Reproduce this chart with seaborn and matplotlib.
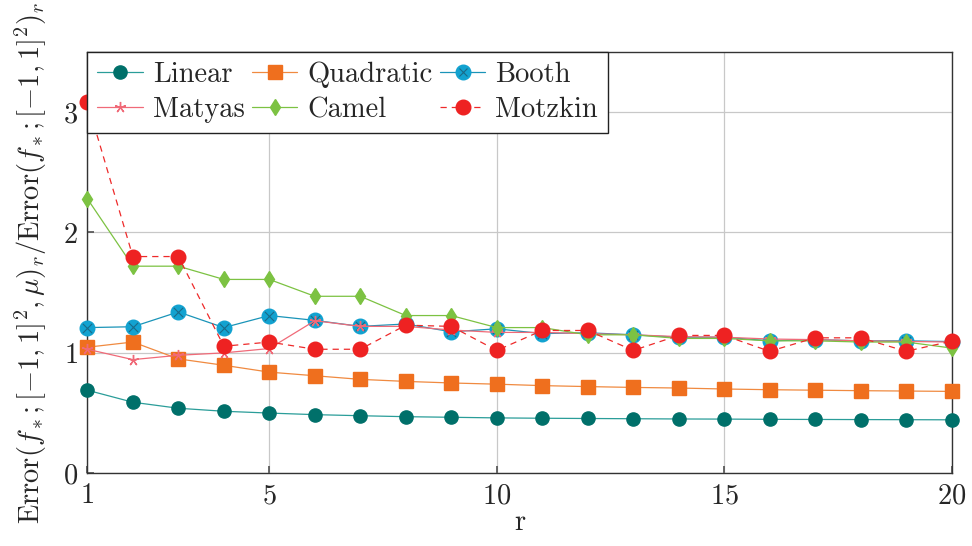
import numpy as np
import pandas as pd
import matplotlib
matplotlib.use("Agg")
import matplotlib.pyplot as plt
import seaborn as sns
from matplotlib.lines import Line2D

r = list(range(1, 21))
linear = [0.69, 0.59, 0.54, 0.515, 0.50, 0.487, 0.478, 0.47, 0.465, 0.46,
          0.457, 0.455, 0.453, 0.451, 0.45, 0.448, 0.447, 0.446, 0.445, 0.444]
quadratic = [1.047, 1.09, 0.95, 0.897, 0.84, 0.81, 0.78, 0.763, 0.75, 0.74,
             0.728, 0.72, 0.713, 0.708, 0.70, 0.694, 0.69, 0.686, 0.683, 0.68]
booth = [1.21, 1.217, 1.34, 1.21, 1.31, 1.27, 1.22, 1.24, 1.175, 1.20,
         1.16, 1.167, 1.15, 1.13, 1.13, 1.10, 1.11, 1.10, 1.10, 1.094]
matyas = [1.03, 0.944, 0.98, 1.0, 1.036, 1.267, 1.22, 1.22, 1.19, 1.17,
          1.17, 1.16, 1.15, 1.135, 1.13, 1.115, 1.11, 1.10, 1.095, 1.09]
camel = [2.28, 1.72, 1.72, 1.61, 1.61, 1.47, 1.47, 1.31, 1.31, 1.21,
         1.21, 1.15, 1.15, 1.12, 1.12, 1.10, 1.10, 1.09, 1.09, 1.04]
motzkin = [3.08, 1.80, 1.80, 1.055, 1.09, 1.03, 1.03, 1.23, 1.22, 1.02,
           1.186, 1.186, 1.02, 1.145, 1.145, 1.013, 1.125, 1.125, 1.013, 1.097]

names = ["Linear", "Quadratic", "Booth", "Matyas", "Camel", "Motzkin"]
values = [linear, quadratic, booth, matyas, camel, motzkin]

df = pd.DataFrame({
    "r": np.tile(r, len(names)),
    "value": np.concatenate(values),
    "series": np.repeat(names, len(r)),
})

sns.set_theme(style="white")
plt.rcParams["font.family"] = ["cmr10", "DejaVu Serif"]
plt.rcParams["mathtext.fontset"] = "cm"
plt.rcParams["axes.formatter.use_mathtext"] = True

FS = 20.5

fig = plt.figure(figsize=(9.72, 5.46), dpi=100)
ax = fig.add_axes([0.0899, 0.1332, 0.979 - 0.0899, 0.905 - 0.1332])

styles = {
    "Linear":    dict(lc="#2a9d99", mc="#00706a", marker="o", ms=9.5, ls="-"),
    "Quadratic": dict(lc="#f08a40", mc="#ef6f1e", marker="s", ms=9.5, ls="-"),
    "Booth":     dict(lc="#1a94b8", mc="#12a2d0", marker="o", ms=10.5, ls="-"),
    "Matyas":    dict(lc="#f06a78", mc="#f06a78", marker=(5, 2, 0), ms=8, ls="-"),
    "Camel":     dict(lc="#7cc242", mc="#7cc242", marker="d", ms=8.5, ls="-"),
    "Motzkin":   dict(lc="#ee2a2a", mc="#ee2222", marker="o", ms=10.5, ls=(0, (5, 4))),
}

zorders = {"Linear": 3, "Quadratic": 3, "Booth": 4, "Matyas": 5, "Camel": 6, "Motzkin": 7}
for name in names:
    st = styles[name]
    sub = df[df["series"] == name]
    sns.lineplot(data=sub, x="r", y="value", ax=ax, color=st["lc"], linewidth=0.9,
                 linestyle=st["ls"], marker=st["marker"], markersize=st["ms"],
                 markerfacecolor=st["mc"], markeredgecolor=st["mc"],
                 markeredgewidth=1.0, zorder=zorders[name], legend=False, clip_on=False)
    if name == "Booth":
        sns.scatterplot(data=sub, x="r", y="value", ax=ax, marker="x", s=45,
                        color="#1a6a88", linewidth=0.8, zorder=4.5, legend=False,
                        clip_on=False)

ax.set_xlim(1, 20)
ax.set_ylim(0, 3.5)
ax.set_xticks([1, 5, 10, 15, 20])
ax.set_yticks([0, 1, 2, 3])
ax.grid(True, color="#c8c8c8", linewidth=0.9)
ax.set_axisbelow(True)
for s in ax.spines.values():
    s.set_color("#333333")
    s.set_linewidth(1.0)
ax.tick_params(axis="both", direction="in", length=5, color="#555555",
               labelsize=FS, pad=7, bottom=True, left=True)
ax.set_xlabel("r", fontsize=FS, labelpad=0)
ax.set_ylabel(r"Error$(f_*;[-1,1]^2,\mu)_r/$Error$(f_*;[-1,1]^2)_r$", fontsize=FS, labelpad=10)

# row-wise legend order for 3 columns x 2 rows (matplotlib fills column-wise)
leg_order = ["Linear", "Matyas", "Quadratic", "Camel", "Booth", "Motzkin"]
handles = []
for name in leg_order:
    st = styles[name]
    h = Line2D([], [], color=st["lc"], linewidth=0.9, linestyle=st["ls"],
               marker=st["marker"], markersize=st["ms"],
               markerfacecolor=st["mc"], markeredgecolor=st["mc"])
    if name == "Booth":
        hx = Line2D([], [], linestyle="none", marker="x", markersize=6,
                    color="#1a6a88", markeredgewidth=0.8)
        h = (h, hx)
    handles.append(h)
leg = ax.legend(handles, leg_order,
                loc="upper left", bbox_to_anchor=(0.0, 1.0), ncol=3, fontsize=FS,
                frameon=True, fancybox=False, edgecolor="#222222", framealpha=1.0,
                borderaxespad=0.0, handlelength=1.6, columnspacing=0.25,
                handletextpad=0.35, labelspacing=0.3, borderpad=0.35)
leg.get_frame().set_linewidth(1.0)
leg.set_zorder(10)

fig.savefig("out.png", dpi=100)
